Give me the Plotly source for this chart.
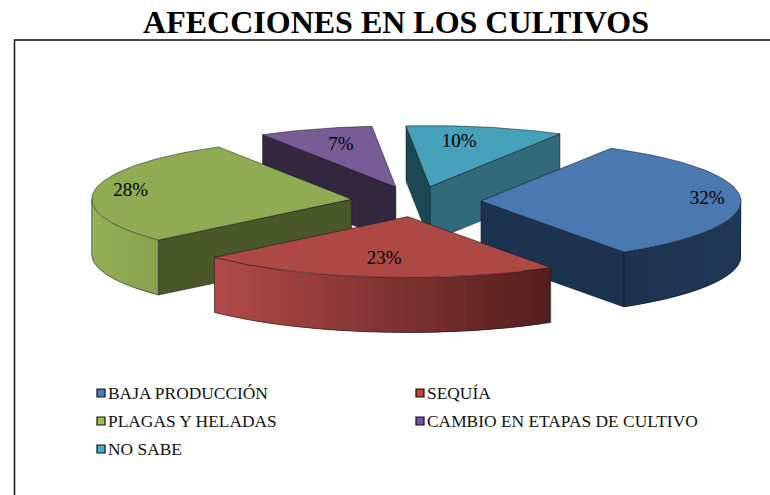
"""Exploded 3D-look pie, AFECCIONES EN LOS CULTIVOS.

Wedges are built from the shares and projected by hand onto a flat
cartesian plot (1 axis unit = one pie radius).
"""
import math

import plotly.graph_objects as go

CATEGORIES = ["BAJA PRODUCCIÓN", "SEQUÍA", "PLAGAS Y HELADAS", "CAMBIO EN ETAPAS DE CULTIVO", "NO SABE"]
# the labels show them rounded
VALUES = [32.4, 22.6, 28.1, 7.1, 9.8]

TOP_COLORS = ["#4a78b0", "#ad4845", "#8fac54", "#795c95", "#46a1ba"]
WALL_LEFT = ["#1c3350", "#b04a47", "#93b058", "#33273f", "#306a7b"]
WALL_RIGHT = ["#1f3857", "#531e1d", "#86a24e", "#33273f", "#306a7b"]
# cut face colours: (face on the clockwise side, face on the counter-clockwise side)
CUT_COLORS = [("#1c3350", "#1c3350"), ("#7f3232", "#7f3232"), ("#4a5728", "#4a5728"),
              ("#33273f", "#33273f"), ("#306a7b", "#1d4751")]
LEGEND_COLORS = ["#4a7cc0", "#c8403c", "#9cc04c", "#7a50a8", "#40b0d0"]
LABEL_RADIUS = [0.87, 0.71, 0.86, 0.72, 0.73]
LABEL_TURN = [0, 0, 0, 1, -3.5]
DRAW_ORDER = [3, 4, 2, 0, 1]

FONT = "Liberation Serif"
WIDTH, HEIGHT = 770, 495
RADIUS_PX = 260
CENTER_PX = (416, 201.5)
TILT = 0.2345
EXPLODE = 0.25
DEPTH = 55 / RADIUS_PX
START_ANGLE = 30
EDGE = "rgba(10,15,20,0.7)"


def project(r, deg, ox=0.0, oy=0.0, z=0.0):
    a = math.radians(deg)
    return ox + r * math.sin(a), oy + TILT * r * math.cos(a) - z


def blend(c1, c2, t):
    a = [int(c1[i:i + 2], 16) for i in (1, 3, 5)]
    b = [int(c2[i:i + 2], 16) for i in (1, 3, 5)]
    return "rgb(%d,%d,%d)" % tuple(round(p + (q - p) * t) for p, q in zip(a, b))


def poly(points, color, edge=None):
    return go.Scatter(
        x=[p[0] for p in points], y=[p[1] for p in points],
        mode="lines", fill="toself", fillcolor=color,
        line=dict(color=edge or color, width=0.7 if edge else 0),
        hoverinfo="skip", showlegend=False,
    )


def arc(a0, a1, n=60):
    return [a0 + (a1 - a0) * i / n for i in range(n + 1)]


def wedge_traces(i, a0, a1, ox, oy):
    traces = []

    # Cut faces, only those turned towards the viewer.
    for deg, clockwise, color in ((a1, True, CUT_COLORS[i][0]), (a0, False, CUT_COLORS[i][1])):
        rad = math.radians(deg)
        normal_y = -math.sin(rad) if clockwise else math.sin(rad)
        if normal_y < 0:
            traces.append(poly([
                project(0, deg, ox, oy), project(1, deg, ox, oy),
                project(1, deg, ox, oy, DEPTH), project(0, deg, ox, oy, DEPTH),
                project(0, deg, ox, oy),
            ], color, EDGE))

    # Outer wall, south half only, in overlapping strips for the shading.
    lo, hi = max(a0, 90), min(a1, 270)
    if hi > lo:
        degs = arc(lo, hi, 36)
        span = [project(1, d, ox, oy)[0] for d in degs]
        left, right = min(span), max(span)
        for k in range(len(degs) - 1):
            d0 = degs[k]
            # overlap the neighbour so no seam shows between strips
            d1 = degs[min(k + 2, len(degs) - 1)]
            t = (project(1, (degs[k] + degs[k + 1]) / 2, ox, oy)[0] - left) / (right - left)
            traces.append(poly([
                project(1, d0, ox, oy), project(1, d1, ox, oy),
                project(1, d1, ox, oy, DEPTH), project(1, d0, ox, oy, DEPTH),
                project(1, d0, ox, oy),
            ], blend(WALL_LEFT[i], WALL_RIGHT[i], t)))
        bottom = [project(1, d, ox, oy, DEPTH) for d in arc(lo, hi)]
        outline = [project(1, lo, ox, oy)] + bottom + [project(1, hi, ox, oy)]
        traces.append(go.Scatter(
            x=[p[0] for p in outline], y=[p[1] for p in outline], mode="lines",
            line=dict(color=EDGE, width=0.7), hoverinfo="skip", showlegend=False,
        ))

    # Top face.
    top = [project(0, a0, ox, oy)] + [project(1, d, ox, oy) for d in arc(a0, a1)] + [project(0, a0, ox, oy)]
    traces.append(poly(top, TOP_COLORS[i], EDGE))
    return traces


total = sum(VALUES)
spans = []
angle = START_ANGLE
for v in VALUES:
    spans.append((angle, angle + 360 * v / total))
    angle += 360 * v / total

fig = go.Figure()
label_x, label_y, label_text = [], [], []
for i, (a0, a1) in enumerate(spans):
    mid = (a0 + a1) / 2
    ox, oy = project(EXPLODE, mid)
    lx, ly = project(LABEL_RADIUS[i], mid + LABEL_TURN[i], ox, oy)
    label_x.append(lx)
    label_y.append(ly)
    label_text.append(f"{round(VALUES[i])}%")

for i in DRAW_ORDER:
    a0, a1 = spans[i]
    ox, oy = project(EXPLODE, (a0 + a1) / 2)
    fig.add_traces(wedge_traces(i, a0, a1, ox, oy))

fig.add_trace(go.Scatter(
    x=label_x, y=label_y, text=label_text, mode="text",
    textfont=dict(family=FONT, size=19, color="#000000"),
    hoverinfo="skip", showlegend=False,
))

# Legend: two columns, filled row by row.
legend_cols = [97, 416]
legend_rows = [393, 421, 449]
for i, name in enumerate(CATEGORIES):
    px = legend_cols[i % 2]
    py = legend_rows[i // 2]
    fig.add_shape(
        type="rect", xref="paper", yref="paper",
        x0=px / WIDTH, x1=(px + 8) / WIDTH,
        y0=1 - (py + 4) / HEIGHT, y1=1 - (py - 4) / HEIGHT,
        fillcolor=LEGEND_COLORS[i], line=dict(color="#111111", width=1.2),
    )
    fig.add_annotation(
        xref="paper", yref="paper", x=(px + 9) / WIDTH, y=1 - py / HEIGHT,
        text=name, showarrow=False, xanchor="left", yanchor="middle",
        font=dict(family=FONT, size=17.4, color="#111111"),
    )

# Frame: only top and left sides fall inside the picture.
fig.add_shape(
    type="path", xref="paper", yref="paper",
    path=f"M {14.5 / WIDTH} 0 L {14.5 / WIDTH} {1 - 40 / HEIGHT} L 1 {1 - 40 / HEIGHT}",
    line=dict(color="#111111", width=1.5),
)

fig.update_layout(
    width=WIDTH, height=HEIGHT,
    margin=dict(l=0, r=0, t=0, b=0),
    paper_bgcolor="#ffffff", plot_bgcolor="#ffffff",
    showlegend=False,
    title=dict(
        text="AFECCIONES EN LOS CULTIVOS",
        x=396 / WIDTH, xanchor="center", y=1 - 22 / HEIGHT, yanchor="middle",
        font=dict(family=FONT, size=32, color="#000000", weight=700),
    ),
    xaxis=dict(range=[-CENTER_PX[0] / RADIUS_PX, (WIDTH - CENTER_PX[0]) / RADIUS_PX], visible=False),
    yaxis=dict(range=[-(HEIGHT - CENTER_PX[1]) / RADIUS_PX, CENTER_PX[1] / RADIUS_PX], visible=False),
)

fig.write_html("out.html", config=dict(displayModeBar=False), post_script="document.body.style.margin='0';")
